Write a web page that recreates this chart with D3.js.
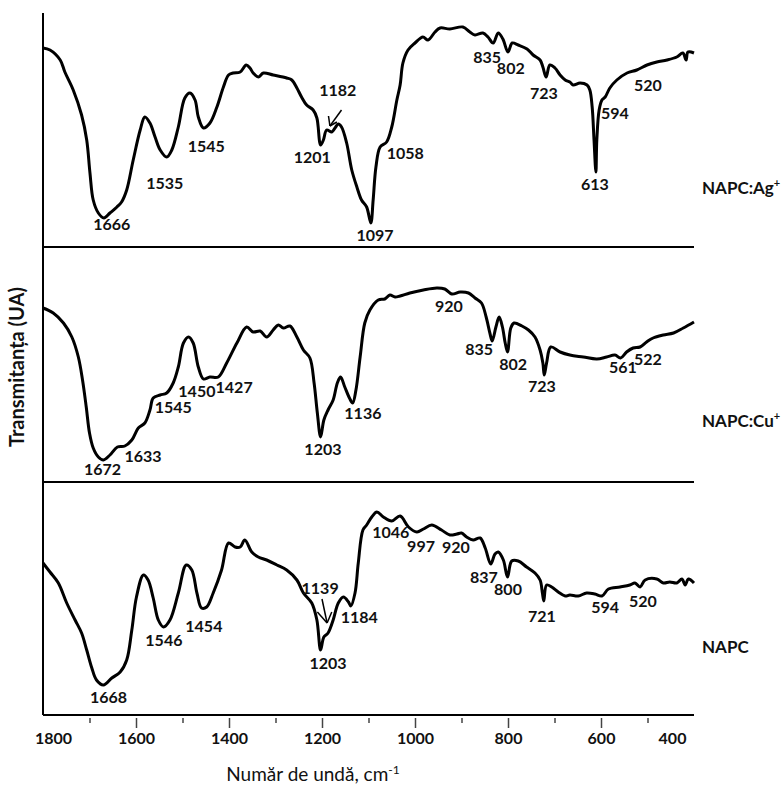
<!DOCTYPE html>
<html>
<head>
<meta charset="utf-8">
<script src="https://cdn.jsdelivr.net/npm/d3@7"></script>
<style>
  body { margin: 0; background: #fff; }
  text { font-family: Lato, "Open Sans", sans-serif; fill: #111; }
</style>
</head>
<body>
<svg id="chart" width="782" height="785"></svg>
<script>
// spectra: [wavenumber cm-1, transmittance (UA, per panel)]
var napcAg = [[1800,199],[1785,197],[1763,187],[1753,175],[1735,157],[1717,132],[1706,107],[1699,74],[1692,47],[1681,34],[1669,29],[1656,34],[1641,40],[1631,45],[1620,57],[1606,87],[1591,117],[1581,130],[1570,124],[1559,110],[1548,97],[1534,90],[1523,97],[1509,120],[1495,149],[1484,154],[1473,147],[1466,130],[1455,119],[1441,124],[1426,140],[1412,160],[1401,172],[1391,174],[1376,175],[1363,182],[1355,179],[1348,174],[1337,170],[1326,174],[1305,172],[1276,169],[1265,167],[1254,159],[1244,150],[1233,142],[1219,137],[1211,129],[1203,102],[1197,107],[1190,117],[1179,115],[1172,119],[1165,123],[1158,120],[1147,104],[1136,77],[1125,60],[1115,47],[1104,40],[1095,24],[1090,47],[1084,80],[1075,100],[1061,105],[1050,120],[1039,147],[1032,162],[1026,184],[1015,197],[1000,204],[983,210],[972,207],[957,215],[946,219],[925,218],[897,220],[882,215],[871,212],[854,214],[843,210],[832,204],[821,214],[811,208],[800,195],[791,204],[778,202],[759,198],[746,192],[731,187],[725,180],[718,170],[710,182],[699,179],[688,172],[677,167],[667,165],[660,162],[645,164],[630,162],[624,157],[619,140],[615,107],[611,75],[609,107],[604,137],[598,147],[591,150],[581,159],[566,167],[544,174],[523,177],[501,182],[480,185],[458,187],[437,190],[424,194],[417,187],[413,195],[400,194]];

var napcCu = [[1800,174],[1778,169],[1756,159],[1738,145],[1724,125],[1715,102],[1707,75],[1700,49],[1692,34],[1681,25],[1670,22],[1656,27],[1640,35],[1624,36],[1609,42],[1595,54],[1581,59],[1570,72],[1563,84],[1548,87],[1534,89],[1520,99],[1509,115],[1498,139],[1487,145],[1477,139],[1466,115],[1455,103],[1441,105],[1423,105],[1405,119],[1383,139],[1362,155],[1348,150],[1333,151],[1319,145],[1305,152],[1294,157],[1283,154],[1269,156],[1254,145],[1240,132],[1226,124],[1217,99],[1210,69],[1203,45],[1196,62],[1187,72],[1176,82],[1167,99],[1160,105],[1151,95],[1141,84],[1134,79],[1127,92],[1118,125],[1108,159],[1097,172],[1079,182],[1065,183],[1054,187],[1043,185],[1032,186],[1011,189],[982,192],[953,194],[936,193],[921,188],[903,190],[885,189],[871,184],[857,179],[847,165],[839,149],[834,141],[826,155],[819,165],[812,155],[806,139],[801,130],[794,154],[787,159],[770,156],[756,152],[742,145],[731,132],[725,119],[722,107],[717,119],[708,135],[688,130],[667,127],[638,125],[609,123],[588,125],[570,127],[558,124],[545,130],[531,134],[516,135],[502,140],[488,144],[466,147],[444,149],[423,154],[400,160]];

var napc = [[1800,152],[1785,143],[1767,132],[1749,112],[1731,95],[1717,82],[1706,65],[1695,47],[1685,35],[1670,30],[1652,37],[1634,43],[1620,55],[1609,85],[1599,118],[1584,140],[1574,135],[1563,117],[1552,95],[1541,88],[1527,95],[1509,122],[1492,150],[1480,145],[1469,122],[1459,107],[1448,108],[1434,122],[1416,145],[1401,172],[1387,168],[1376,168],[1366,175],[1351,163],[1337,158],[1319,155],[1297,150],[1276,145],[1254,135],[1240,122],[1222,112],[1211,95],[1203,65],[1196,78],[1187,82],[1176,95],[1165,112],[1154,118],[1143,113],[1138,109],[1129,122],[1122,152],[1112,185],[1104,190],[1093,198],[1082,203],[1068,198],[1050,194],[1032,199],[1014,188],[996,183],[982,186],[964,190],[943,185],[925,180],[910,181],[900,182],[889,178],[875,175],[860,177],[849,167],[837,151],[828,161],[821,163],[810,155],[801,138],[792,154],[778,154],[760,148],[742,142],[731,135],[726,122],[723,114],[717,130],[706,128],[692,123],[677,119],[667,120],[649,119],[631,122],[613,121],[598,119],[584,126],[559,128],[538,130],[527,132],[516,128],[505,135],[480,136],[466,132],[452,133],[437,132],[426,136],[419,130],[412,136],[400,132]];

// peak labels: [text, wavenumber anchor, height anchor]
var peaksAg = [["1666",1652,17],["1535",1538,58],["1545",1449,95],["1201",1221,84],["1182",1166,151],["1097",1086,6],["1058",1021,88],["835",845,184],["802",794,173],["723",723,148],["594",570,128],["520",499,156],["613",613,57]];
var peaksCu = [["1672",1672,7],["1633",1585,20],["1545",1520,69],["1450",1469,85],["1427",1389,89],["1203",1198,27],["1136",1112,63],["920",927,170],["835",862,127],["802",789,112],["723",727,90],["561",553,109],["522",499,117]];
var peaksNapc = [["1668",1659,12],["1546",1540,69],["1454",1454,83],["1139",1204,121],["1184",1120,92],["1203",1187,46],["1046",1052,177],["997",987,163],["920",912,162],["837",852,132],["800",800,120],["721",727,93],["594",591,102],["520",510,108]];

// arrows: [tail, tip, arm1, arm2] as [wavenumber, height]
var arrowAg = [[1158,137],[1183,121],[1186,131],[1168,125]];
var arrowNapc = [[1200,116],[1189,92],[1210,103],[1179,103]];

var seriesNames = ["NAPC:Ag", "NAPC:Cu", "NAPC"];
var seriesSup = ["+", "+", ""];
var seriesLabelH = [53, 55, 62];

var xTicks = [1700,1600,1500,1400,1300,1200,1100,1000,900,800,700,600,500];
var xLabels = [1800,1600,1400,1200,1000,800,600,400];

var svg = d3.select("#chart");
var left = 43, right = 694;
var bounds = [13, 247, 482, 715];

var x = d3.scaleLinear().domain([1800, 400]).range([left, right]);

var panels = [
  { data: napcAg, peaks: peaksAg, arrow: arrowAg },
  { data: napcCu, peaks: peaksCu, arrow: null },
  { data: napc, peaks: peaksNapc, arrow: arrowNapc }
];

panels.forEach(function(p, i) {
  var bottom = bounds[i + 1];
  var y = d3.scaleLinear().domain([0, 234]).range([bottom, bottom - 234]);

  var line = d3.line()
    .x(function(d) { return x(d[0]); })
    .y(function(d) { return y(d[1]); })
    .curve(d3.curveCatmullRom.alpha(0.5));

  svg.append("path")
    .datum(p.data)
    .attr("d", line)
    .attr("fill", "none")
    .attr("stroke", "#000")
    .attr("stroke-width", 3)
    .attr("stroke-linejoin", "round");

  svg.append("g").selectAll("text")
    .data(p.peaks)
    .enter().append("text")
    .attr("x", function(d) { return x(d[1]); })
    .attr("y", function(d) { return y(d[2]); })
    .attr("text-anchor", "middle")
    .attr("font-size", 16)
    .attr("font-weight", "bold")
    .text(function(d) { return d[0]; });

  if (p.arrow) {
    var a = p.arrow;
    var seg = [[a[0], a[1]], [a[2], a[1]], [a[3], a[1]]];
    svg.append("g").selectAll("line")
      .data(seg)
      .enter().append("line")
      .attr("x1", function(d) { return x(d[0][0]); })
      .attr("y1", function(d) { return y(d[0][1]); })
      .attr("x2", function(d) { return x(d[1][0]); })
      .attr("y2", function(d) { return y(d[1][1]); })
      .attr("stroke", "#000")
      .attr("stroke-width", 1.5);
  }

  // series name on the right
  var t = svg.append("text")
    .attr("x", right + 8)
    .attr("y", y(seriesLabelH[i]))
    .attr("font-size", 17)
    .attr("font-weight", "bold")
    .text(seriesNames[i]);
  if (seriesSup[i]) {
    t.append("tspan")
      .attr("dy", -7)
      .attr("font-size", 11)
      .text(seriesSup[i]);
  }
});

// frame: left axis, separators, bottom axis
svg.append("line")
  .attr("x1", left).attr("x2", left)
  .attr("y1", bounds[0]).attr("y2", bounds[3])
  .attr("stroke", "#000").attr("stroke-width", 2);

svg.append("g").selectAll("line")
  .data(bounds.slice(1))
  .enter().append("line")
  .attr("x1", left).attr("x2", right)
  .attr("y1", function(d) { return d; })
  .attr("y2", function(d) { return d; })
  .attr("stroke", "#000").attr("stroke-width", 2);

// tick marks
var tickG = svg.append("g")
  .attr("transform", "translate(0," + (bounds[3] + 3) + ")")
  .call(d3.axisBottom(x).tickValues(xTicks).tickSize(10).tickFormat(""));
tickG.select(".domain").remove();
tickG.selectAll(".tick line")
  .attr("stroke", "#444")
  .attr("stroke-width", 1.5)
  .attr("y2", function(d) { return d % 200 == 0 ? 10 : 5; });

// tick labels
var labG = svg.append("g")
  .attr("transform", "translate(0," + (bounds[3] + 18) + ")")
  .call(d3.axisBottom(x).tickValues(xLabels).tickSize(0).tickPadding(0).tickFormat(d3.format("d")));
labG.select(".domain").remove();
labG.selectAll(".tick text")
  .attr("font-size", 16)
  .attr("font-weight", "bold")
  .attr("font-family", "Lato, 'Open Sans', sans-serif")
  .attr("fill", "#111")
  .attr("dx", function(d) { return d == 1800 ? 10 : (d == 400 ? -22 : 0); });

// axis titles
var xt = svg.append("text")
  .attr("x", 313)
  .attr("y", 781)
  .attr("text-anchor", "middle")
  .attr("font-size", 19)
  .text("Număr de undă, cm");
xt.append("tspan").attr("dy", -7).attr("font-size", 12).text("-1");

svg.append("text")
  .attr("transform", "translate(24,367) rotate(-90)")
  .attr("text-anchor", "middle")
  .attr("font-size", 20)
  .attr("font-weight", "bold")
  .text("Transmitanța (UA)");
</script>
</body>
</html>
